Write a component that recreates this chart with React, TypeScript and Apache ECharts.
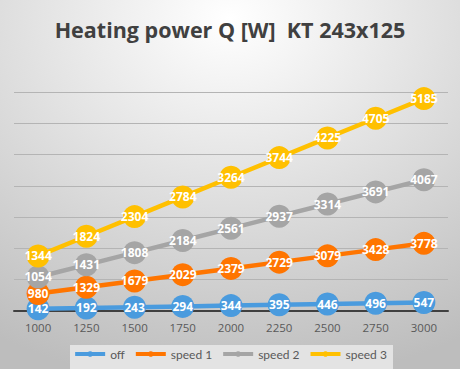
import React, { useEffect, useRef } from "react";
import * as echarts from "echarts";

const categories = ["1000", "1250", "1500", "1750", "2000", "2250", "2500", "2750", "3000"];
const offValues = [142, 192, 243, 294, 344, 395, 446, 496, 547];
const speed1Values = [980, 1329, 1679, 2029, 2379, 2729, 3079, 3428, 3778];
const speed2Values = [1054, 1431, 1808, 2184, 2561, 2937, 3314, 3691, 4067];
const speed3Values = [1344, 1824, 2304, 2784, 3264, 3744, 4225, 4705, 5185];
const seriesNames = ["off", "speed 1", "speed 2", "speed 3"];
const seriesColors = ["#4A9BDE", "#FF7500", "#A5A5A5", "#FFC000"];

export default function App() {
  const ref = useRef<HTMLDivElement>(null);
  useEffect(() => {
    if (!ref.current) return;
    const chart = echarts.init(ref.current, null, { renderer: "svg" });
    const datas = [offValues, speed1Values, speed2Values, speed3Values];
    const font = "'Open Sans', sans-serif";
    chart.setOption({
      animation: false,
      backgroundColor: {
        type: "radial",
        x: 0.5,
        y: 0.05,
        r: 1.0,
        colorStops: [
          { offset: 0, color: "#ffffff" },
          { offset: 1, color: "#bdbdbd" },
        ],
      },
      graphic: [
        {
          type: "rect",
          left: 70,
          top: 345,
          shape: { width: 323, height: 24 },
          style: { fill: "#e3e3e3" },
          z: 0,
          silent: true,
        },
      ],
      title: {
        text: "Heating power Q [W]  KT 243x125",
        left: "center",
        top: 13,
        textStyle: { fontFamily: font, fontWeight: "bold", fontSize: 21.5, color: "#404040" },
      },
      grid: { left: 14, right: 12, top: 92, bottom: 58, containLabel: false },
      legend: {
        top: 348,
        left: "center",
        padding: 0,
        itemWidth: 30,
        itemHeight: 7,
        itemGap: 9,
        lineStyle: { width: 4 },
        textStyle: { fontFamily: "Lato, sans-serif", fontSize: 12, color: "#595959" },
        data: seriesNames,
      },
      xAxis: {
        type: "category",
        data: categories,
        boundaryGap: true,
        axisLine: { lineStyle: { color: "#404040", width: 2 } },
        axisTick: { show: false },
        axisLabel: { fontFamily: font, fontSize: 11.5, color: "#595959", margin: 10 },
      },
      yAxis: {
        type: "value",
        min: 0,
        max: 14000,
        interval: 2000,
        axisLabel: { show: false },
        axisLine: { show: false },
        axisTick: { show: false },
        splitLine: { lineStyle: { color: "#b4b4b4", width: 1 } },
      },
      series: datas.map((d, i) => ({
        name: seriesNames[i],
        type: "line",
        stack: "total",
        data: d,
        color: seriesColors[i],
        symbol: "circle",
        symbolSize: 23,
        lineStyle: { width: 4.5, color: seriesColors[i] },
        itemStyle: { color: seriesColors[i] },
        label: {
          show: true,
          position: "inside",
          color: "#ffffff",
          fontFamily: font,
          fontWeight: "bold",
          fontSize: 12,
        },
        z: 2 + i,
      })),
    });
    return () => chart.dispose();
  }, []);
  return <div ref={ref} style={{ width: 460, height: 369, position: "absolute", left: 0, top: 0 }} />;
}
